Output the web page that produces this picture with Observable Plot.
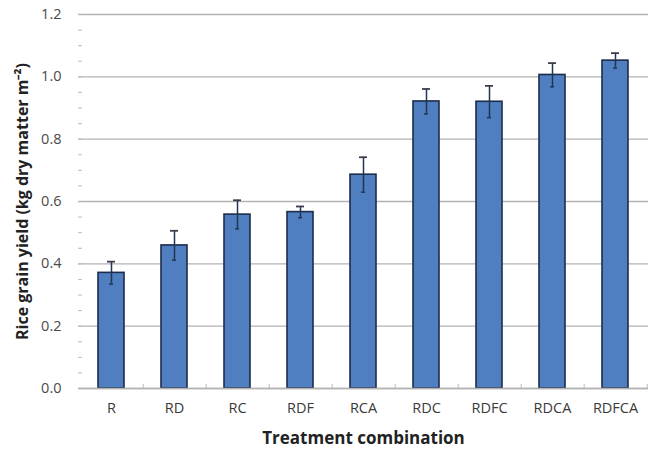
<!DOCTYPE html>
<html>
<head>
<meta charset="utf-8">
<script src="https://cdn.jsdelivr.net/npm/d3@7"></script>
<script src="https://cdn.jsdelivr.net/npm/@observablehq/plot@0.6"></script>
<style>
  html, body { margin: 0; padding: 0; background: #fff; }
  #chart { width: 650px; height: 454px; }
</style>
</head>
<body>
<div id="chart"></div>
<script>
const treatments = ["R", "RD", "RC", "RDF", "RCA", "RDC", "RDFC", "RDCA", "RDFCA"];
const yieldValues = [0.371, 0.459, 0.558, 0.566, 0.686, 0.921, 0.920, 1.006, 1.052];
const errorValues = [0.036, 0.047, 0.046, 0.018, 0.056, 0.040, 0.051, 0.038, 0.024];
const majorTicks = [0, 0.2, 0.4, 0.6, 0.8, 1.0, 1.2];
const minorTicks = d3.range(0, 1.2001, 0.05);

const data = treatments.map((t, i) => ({t, v: yieldValues[i], e: errorValues[i]}));

const W = 650, H = 454, ML = 78, MR = 2, MT = 14, MB = 66;
const half = (W - ML - MR) / treatments.length / 2;
const font = "'Open Sans', 'Liberation Sans', sans-serif";

const chart = Plot.plot({
  width: W,
  height: H,
  marginLeft: ML,
  marginRight: MR,
  marginTop: MT,
  marginBottom: MB,
  style: {fontFamily: font, background: "#fff"},
  x: {domain: treatments, paddingInner: 0.59, paddingOuter: 0.295, label: null},
  y: {domain: [0, 1.2], label: null},
  marks: [
    Plot.ruleY(majorTicks, {stroke: "#b3b3b3", strokeWidth: 1.3}),
    Plot.ruleX([0], {frameAnchor: "left", stroke: "#b3b3b3", strokeWidth: 1.3}),
    Plot.axisY({ticks: minorTicks, tickSize: -4, tickFormat: () => "", stroke: "#bbbbbb"}),
    Plot.axisY({ticks: majorTicks, tickSize: 0, tickPadding: 17, tickFormat: d3.format(".1f"),
      fontSize: 14.5, fill: "#4a4a4a", stroke: "none",
      label: "Rice grain yield (kg dry matter m\u207B\u00B2)", labelAnchor: "center", labelArrow: "none",
      labelOffset: 62}),
    Plot.axisX({tickSize: -4, dx: half, tickFormat: () => "", stroke: "#bbbbbb"}),
    Plot.axisX({tickSize: 0, tickPadding: 14, fontSize: 14.5, fill: "#3a3a3a",
      label: "Treatment combination", labelAnchor: "center", labelArrow: "none", labelOffset: 55}),
    Plot.barY(data, {x: "t", y: "v", fill: "#4f7fc0", stroke: "#1d2c4a", strokeWidth: 1.6}),
    Plot.ruleX(data, {x: "t", y1: d => d.v - d.e, y2: d => d.v + d.e, stroke: "#233554", strokeWidth: 1.5}),
    Plot.tickY(data, {x: "t", y: d => d.v + d.e, stroke: "#3a3f4a", strokeWidth: 1.8, insetLeft: 9, insetRight: 9}),
    Plot.tickY(data, {x: "t", y: d => d.v - d.e, stroke: "#233554", strokeWidth: 1.5, insetLeft: 11, insetRight: 11}),
    Plot.ruleY([0], {stroke: "#b3b3b3", strokeWidth: 1.3})
  ]
});
chart.querySelectorAll("[aria-label='y-axis label'] text").forEach(t => {
  t.setAttribute("font-weight", "bold");
  t.setAttribute("font-size", "16");
  t.setAttribute("fill", "#222");
});
chart.querySelectorAll("[aria-label='x-axis label'] text").forEach(t => {
  t.setAttribute("font-weight", "bold");
  t.setAttribute("font-size", "17");
  t.setAttribute("fill", "#222");
});
document.getElementById("chart").appendChild(chart);
</script>
</body>
</html>
